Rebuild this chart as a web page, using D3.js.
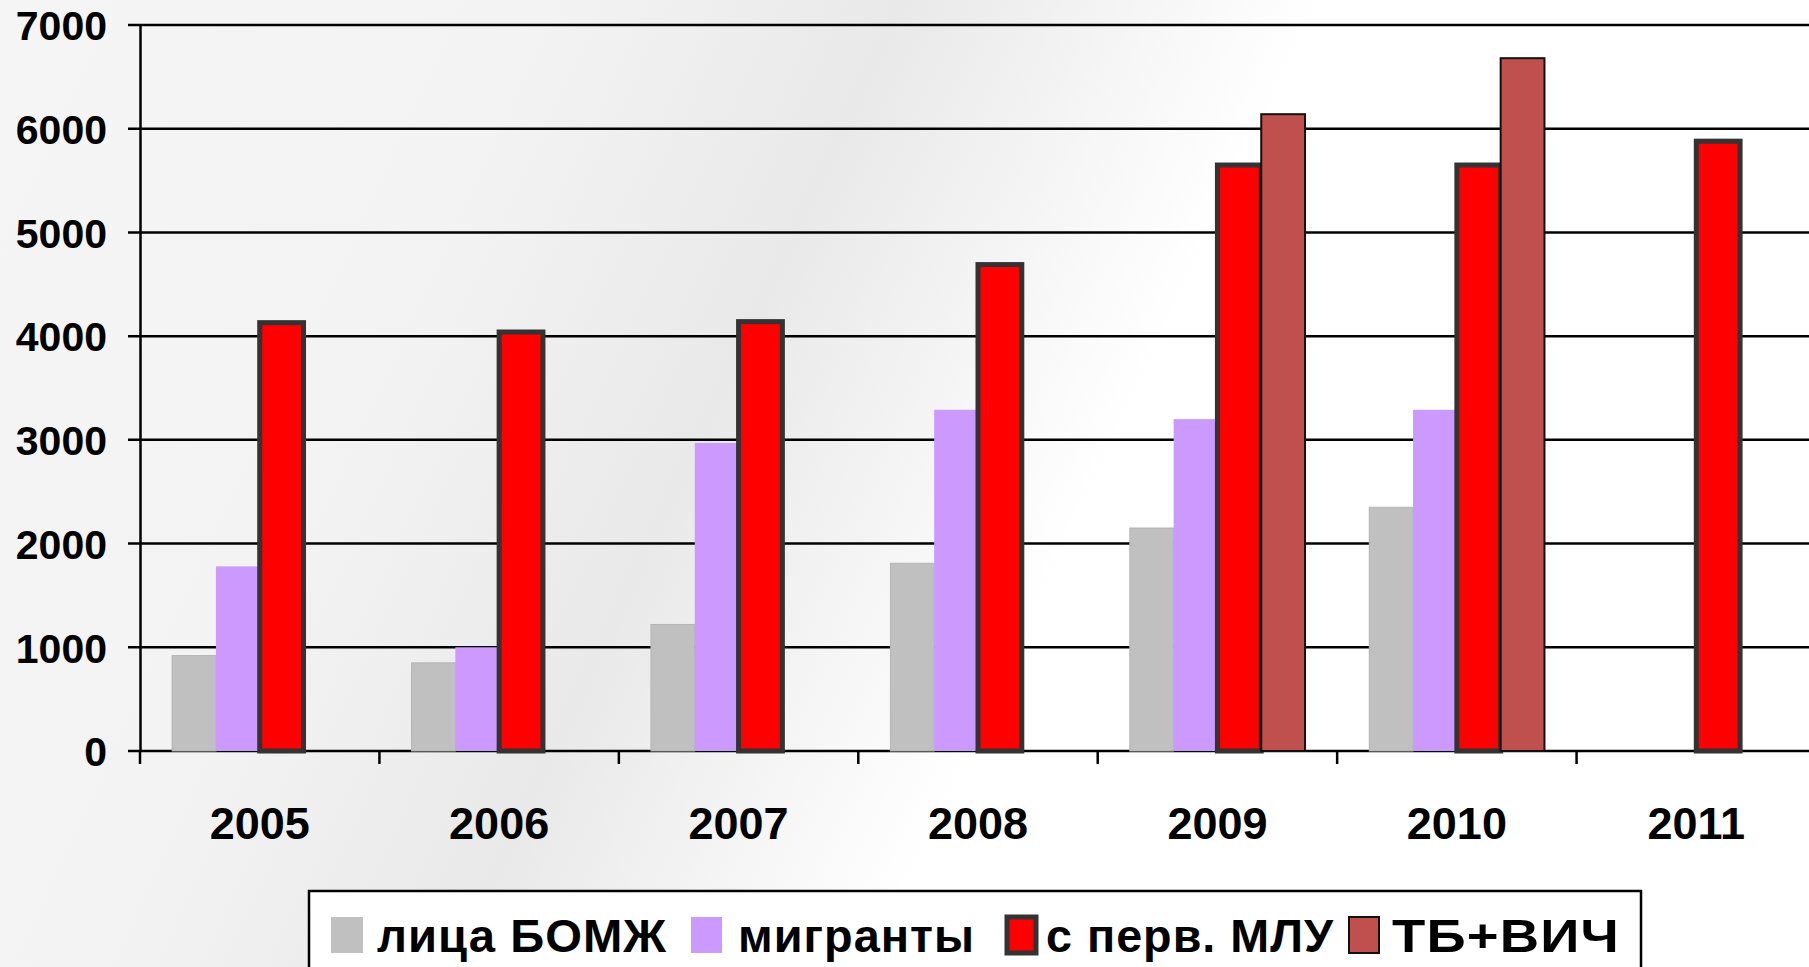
<!DOCTYPE html>
<html>
<head>
<meta charset="utf-8">
<script src="https://cdn.jsdelivr.net/npm/d3@7"></script>
<style>
  body { margin: 0; overflow: hidden; }
  text { font-family: "Liberation Sans", Arial, sans-serif; font-weight: bold; fill: #000; }
</style>
</head>
<body>
<script>
// datos del grafico
const years = ["2005", "2006", "2007", "2008", "2009", "2010", "2011"];
const seriesNames = ["лица БОМЖ", "мигранты", "с перв. МЛУ", "ТБ+ВИЧ"];
const bomzh    = [920, 850, 1220, 1810, 2150, 2350, null];
const migranty = [1780, 1000, 2970, 3290, 3200, 3290, null];
const mlu      = [4130, 4040, 4140, 4690, 5650, 5650, 5880];
const tbvich   = [null, null, null, null, 6140, 6680, null];
const yTicks   = [0, 1000, 2000, 3000, 4000, 5000, 6000, 7000];

const seriesValues = [bomzh, migranty, mlu, tbvich];
const fills   = ["#c0c0c0", "#cc99ff", "#ff0000", "#c0504d"];
const strokes = ["#b4b4b4", "none", "#333333", "#111111"];
const strokeW = [1, 0, 5, 2];

let width = 1809;
let height = 967;
let margin = { top: 25, bottom: 216, left: 140, right: -7 };

const svg = d3.select("body").append("svg")
  .attr("width", width)
  .attr("height", height);

/* fondo degradado */
const grad = svg.append("defs").append("linearGradient")
  .attr("id", "bg")
  .attr("gradientUnits", "userSpaceOnUse")
  .attr("x1", 0).attr("y1", 0)
  .attr("x2", 1813).attr("y2", 844);
[[0, "#f5f5f5"], [0.25, "#f3f3f3"], [0.41, "#e9e9e9"], [0.6, "#ffffff"], [1, "#ffffff"]]
  .forEach(s => grad.append("stop").attr("offset", s[0]).attr("stop-color", s[1]));
svg.append("rect").attr("width", width).attr("height", height).attr("fill", "url(#bg)");

/* escalas */
let escalaY = d3.scaleLinear()
  .domain([0, 7000])
  .range([height - margin.bottom, margin.top]);

let escalaX = d3.scaleBand()
  .domain(years)
  .range([margin.left, width - margin.right])
  .padding(0);

let escalaSerie = d3.scaleBand()
  .domain(d3.range(seriesNames.length))
  .range([0, escalaX.bandwidth()])
  .paddingInner(0)
  .paddingOuter(0.733);

/* lineas de rejilla */
svg.append("g")
  .selectAll("line")
  .data(yTicks)
  .join("line")
  .attr("x1", margin.left - 12)
  .attr("x2", width)
  .attr("y1", d => escalaY(d))
  .attr("y2", d => escalaY(d))
  .attr("stroke", "#000")
  .attr("stroke-width", 2.5);

/* barras */
seriesValues.forEach(function (vals, s) {
  const datos = years.map((y, i) => ({ year: y, value: vals[i] })).filter(d => d.value != null);
  svg.append("g")
    .selectAll("rect")
    .data(datos)
    .join("rect")
    .attr("x", d => escalaX(d.year) + escalaSerie(s))
    .attr("y", d => escalaY(d.value))
    .attr("width", escalaSerie.bandwidth())
    .attr("height", d => escalaY(0) - escalaY(d.value))
    .attr("fill", fills[s])
    .attr("stroke", strokes[s])
    .attr("stroke-width", strokeW[s]);
});

/* eje Y */
let ejeY = d3.axisLeft(escalaY).tickValues(yTicks).tickFormat(d3.format("d")).tickSize(0).tickPadding(33);
const gY = svg.append("g")
  .attr("transform", "translate(" + margin.left + ",0)")
  .call(ejeY);
gY.select(".domain").attr("stroke", "#000").attr("stroke-width", 2.5);
gY.selectAll("text").style("font-size", "41px").attr("dy", "0.36em");

/* eje X */
let ejeX = d3.axisBottom(escalaX).tickSize(0).tickPadding(56);
const gX = svg.append("g")
  .attr("transform", "translate(0," + escalaY(0) + ")")
  .call(ejeX);
gX.select(".domain").remove();
gX.selectAll("text").style("font-size", "45px");

// marcas entre categorias
svg.append("g")
  .selectAll("line")
  .data(years)
  .join("line")
  .attr("x1", d => escalaX(d))
  .attr("x2", d => escalaX(d))
  .attr("y1", escalaY(0))
  .attr("y2", escalaY(0) + 13)
  .attr("stroke", "#000")
  .attr("stroke-width", 2.5);

/* leyenda */
const legend = svg.append("g");
legend.append("rect")
  .attr("x", 309).attr("y", 891)
  .attr("width", 1332).attr("height", 120)
  .attr("fill", "#fff")
  .attr("stroke", "#000")
  .attr("stroke-width", 2.5);

// posicion de cada elemento: muestra x, ancho muestra, texto x, ancho texto
const legendPos = [
  { sx: 331, sw: 32, tx: 377, tw: 290 },
  { sx: 691, sw: 31, tx: 738, tw: 237 },
  { sx: 1007, sw: 29, tx: 1046, tw: 288 },
  { sx: 1349, sw: 30, tx: 1392, tw: 228 }
];

seriesNames.forEach(function (name, s) {
  const p = legendPos[s];
  legend.append("rect")
    .attr("x", p.sx).attr("y", 917)
    .attr("width", p.sw).attr("height", 36)
    .attr("fill", fills[s])
    .attr("stroke", s >= 2 ? strokes[s] : "none")
    .attr("stroke-width", s === 2 ? 5 : (s === 3 ? 2 : 0));
  legend.append("text")
    .attr("x", p.tx)
    .attr("y", 935)
    .attr("dy", "0.36em")
    .attr("textLength", p.tw)
    .attr("lengthAdjust", "spacingAndGlyphs")
    .style("font-size", "46px")
    .style("letter-spacing", "1px")
    .text(name);
});
</script>
</body>
</html>
